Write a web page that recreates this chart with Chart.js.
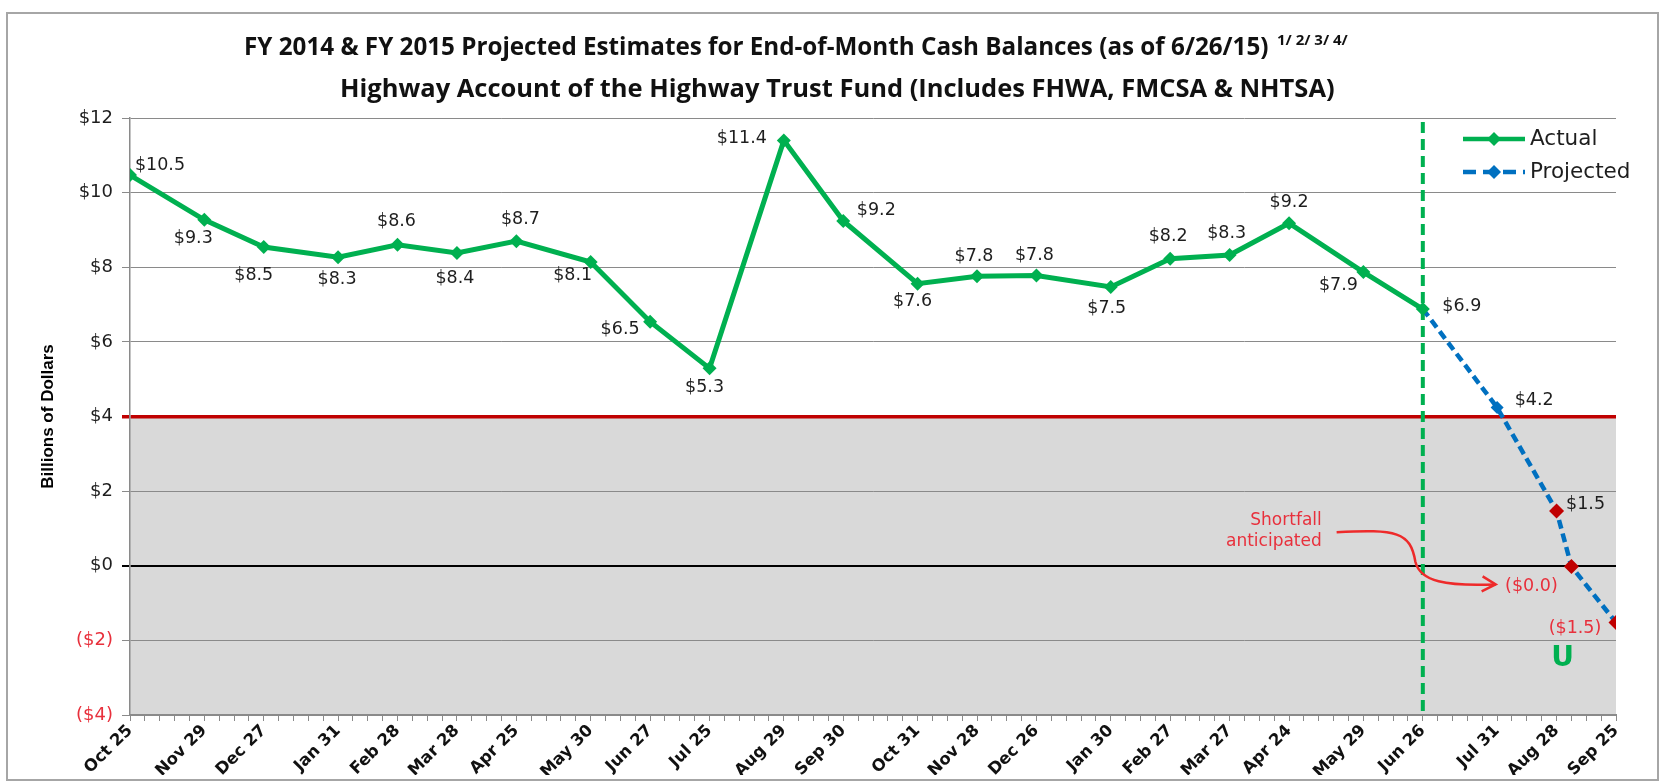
<!DOCTYPE html>
<html>
<head>
<meta charset="utf-8">
<title>Highway Account - End-of-Month Cash Balances</title>
<script src="https://cdn.jsdelivr.net/npm/chart.js@4.4.1/dist/chart.umd.min.js"></script>
<style>
  html, body { margin: 0; padding: 0; background: #fff; }
  #wrap { width: 1665px; height: 781px; }
</style>
</head>
<body>
<div id="wrap"><canvas id="cashChart" width="1665" height="781"></canvas></div>
<script>
// x axis is counted in weeks from Oct 25, 2013 (one small tick per week)
const tickWeeks  = [0, 5, 9, 14, 18, 22, 26, 31, 35, 39, 44, 48, 53, 57, 61, 66, 70, 74, 78, 83, 87, 92, 96, 100];
const tickLabels = ['Oct 25', 'Nov 29', 'Dec 27', 'Jan 31', 'Feb 28', 'Mar 28', 'Apr 25', 'May 30', 'Jun 27', 'Jul 25', 'Aug 29', 'Sep 30',
                    'Oct 31', 'Nov 28', 'Dec 26', 'Jan 30', 'Feb 27', 'Mar 27', 'Apr 24', 'May 29', 'Jun 26', 'Jul 31', 'Aug 28', 'Sep 25'];

// billions of dollars
const actualWeeks  = [0, 5, 9, 14, 18, 22, 26, 31, 35, 39, 44, 48, 53, 57, 61, 66, 70, 74, 78, 83, 87];
const actualValues = [10.47, 9.27, 8.54, 8.27, 8.60, 8.38, 8.70, 8.14, 6.54, 5.29, 11.40, 9.24, 7.56, 7.76, 7.78, 7.47, 8.23, 8.33, 9.18, 7.87, 6.88];

const projectedWeeks  = [87, 92, 96, 97, 100];
const projectedValues = [6.88, 4.24, 1.47, -0.02, -1.52];

const yTicks = [-4, -2, 0, 2, 4, 6, 8, 10, 12];
const asOfWeek = 87;        // 6/26/15
const reserveLevel = 4;     // $4 billion cushion line

// colours
const GREEN = '#00b050', BLUE = '#0070c0', DARK_RED = '#c00000', TEXT_RED = '#e8303c';
const GRID = '#8a8a8a', SHADE = '#d9d9d9', INK = '#1e1e1e';

// label offsets (px) for each point label, null = no label
const actualLabelOffsets = [[30, -10], [-11, 19], [-10, 28], [-1, 22], [-1, -23], [-2, 25], [4, -22], [-18, 13], [-30, 8], [-5, 19],
                            [-42, -2], [33, -11], [-5, 18], [-3, -20], [-2, -20], [-4, 21], [-2, -22], [-3, -21], [0, -21], [-25, 13], [39, -3]];
const projectedLabelOffsets = [null, [37, -7], [29, -6], [-40, 20], [-41, 6]];

const money = v => v < 0 ? '($' + Math.abs(v).toFixed(1) + ')' : '$' + v.toFixed(1);
const moneyTick = v => v < 0 ? '($' + Math.abs(v) + ')' : '$' + v;

const toPoints = (xs, ys) => xs.map((x, i) => ({ x: x, y: ys[i] }));

const TITLE_FONT = '"Open Sans", Lato, sans-serif';

// set a bold font so that text fills the given width
const fitFont = (ctx, text, width) => {
  ctx.font = 'bold 20px ' + TITLE_FONT;
  const size = 20 * width / ctx.measureText(text).width;
  ctx.font = 'bold ' + size.toFixed(2) + 'px ' + TITLE_FONT;
  return size;
};

// grey band under the reserve line + outer frame
const backdrop = {
  id: 'backdrop',
  beforeDraw(chart) {
    const { ctx, chartArea: a, scales: { y } } = chart;
    ctx.save();
    ctx.strokeStyle = '#a6a6a6';
    ctx.lineWidth = 2;
    ctx.strokeRect(7, 13, 1651, 767);
    const top = y.getPixelForValue(reserveLevel);
    ctx.fillStyle = SHADE;
    ctx.fillRect(a.left, top, a.right - a.left, a.bottom - top);
    ctx.restore();
  }
};

// dashed "as of" line
const asOfLine = {
  id: 'asOfLine',
  beforeDatasetsDraw(chart) {
    const { ctx, chartArea: a, scales: { x } } = chart;
    const px = x.getPixelForValue(asOfWeek);
    ctx.save();
    ctx.strokeStyle = GREEN;
    ctx.lineWidth = 4;
    ctx.setLineDash([11, 6]);
    ctx.beginPath();
    ctx.moveTo(px, a.top + 4);
    ctx.lineTo(px, a.bottom);
    ctx.stroke();
    ctx.restore();
  }
};

// value labels next to the points
const pointLabels = {
  id: 'pointLabels',
  afterDatasetsDraw(chart) {
    const { ctx } = chart;
    const offsets = [actualLabelOffsets, projectedLabelOffsets];
    ctx.save();
    ctx.font = '17.5px "DejaVu Sans", Verdana, sans-serif';
    ctx.textAlign = 'center';
    ctx.textBaseline = 'middle';
    chart.data.datasets.forEach((ds, di) => {
      const meta = chart.getDatasetMeta(di);
      meta.data.forEach((pt, i) => {
        const off = offsets[di][i];
        if (!off) return;
        const v = ds.data[i].y;
        ctx.fillStyle = v < 0 ? TEXT_RED : INK;
        ctx.fillText(money(v), pt.x + off[0], pt.y + off[1]);
      });
    });
    ctx.restore();
  }
};

// titles, legend, shortfall note
const notes = {
  id: 'notes',
  afterDraw(chart) {
    const { ctx, chartArea: a, scales: { x, y } } = chart;
    ctx.save();

    // title
    ctx.fillStyle = '#111';
    ctx.textBaseline = 'middle';
    ctx.textAlign = 'left';
    const t1 = 'FY 2014 & FY 2015 Projected Estimates for End-of-Month Cash Balances (as of 6/26/15)';
    const t2 = 'Highway Account of the Highway Trust Fund (Includes FHWA, FMCSA & NHTSA)';
    fitFont(ctx, t1, 1025);
    ctx.fillText(t1, 244, 48);
    ctx.font = 'bold 15px ' + TITLE_FONT;
    ctx.fillText('1/ 2/ 3/ 4/', 244 + 1025 + 8, 41);
    fitFont(ctx, t2, 995);
    ctx.fillText(t2, 340, 90);

    // legend
    const lx0 = a.right - 153, lx1 = a.right - 91, lcx = (lx0 + lx1) / 2;
    const rows = [a.top + 21, a.top + 54];
    chart.data.datasets.forEach((ds, i) => {
      const ly = rows[i];
      ctx.strokeStyle = ds.borderColor;
      ctx.lineWidth = 4.5;
      ctx.setLineDash(i === 1 ? [13, 7] : []);
      ctx.beginPath();
      ctx.moveTo(lx0, ly);
      ctx.lineTo(lx1, ly);
      ctx.stroke();
      ctx.setLineDash([]);
      ctx.fillStyle = ds.borderColor;
      ctx.beginPath();
      ctx.moveTo(lcx, ly - 7); ctx.lineTo(lcx + 7, ly); ctx.lineTo(lcx, ly + 7); ctx.lineTo(lcx - 7, ly);
      ctx.closePath();
      ctx.fill();
      ctx.fillStyle = INK;
      ctx.font = '21.5px "DejaVu Sans", Verdana, sans-serif';
      ctx.textAlign = 'left';
      ctx.fillText(ds.label, lx1 + 5, ly);
    });

    // shortfall note + arrow
    ctx.fillStyle = TEXT_RED;
    ctx.font = '17px "DejaVu Sans", Verdana, sans-serif';
    ctx.textAlign = 'right';
    const nx = x.getPixelForValue(80.2);
    ctx.fillText('Shortfall', nx, y.getPixelForValue(1.22));
    ctx.fillText('anticipated', nx, y.getPixelForValue(0.66));

    const p0 = { x: x.getPixelForValue(81.2), y: y.getPixelForValue(0.9) };
    const p1 = { x: x.getPixelForValue(86.7), y: y.getPixelForValue(0) };
    const p2 = { x: x.getPixelForValue(91.9), y: y.getPixelForValue(-0.5) };
    ctx.strokeStyle = '#ee2a2a';
    ctx.lineWidth = 2.5;
    ctx.beginPath();
    ctx.moveTo(p0.x, p0.y);
    ctx.bezierCurveTo(p0.x + 60, p0.y - 3, p1.x - 8, p1.y - 34, p1.x - 3, p1.y - 4);
    ctx.bezierCurveTo(p1.x + 2, p1.y + 16, p2.x - 50, p2.y + 2, p2.x, p2.y);
    ctx.stroke();
    ctx.beginPath();
    ctx.moveTo(p2.x - 13, p2.y - 8);
    ctx.lineTo(p2.x, p2.y);
    ctx.lineTo(p2.x - 14, p2.y + 7);
    ctx.stroke();

    // green mark under the crossing
    ctx.fillStyle = GREEN;
    ctx.font = 'bold 28px "DejaVu Sans", sans-serif';
    ctx.textAlign = 'center';
    ctx.fillText('U', x.getPixelForValue(96.4), y.getPixelForValue(-2.48));

    ctx.restore();
  }
};

const ctx = document.querySelector('#cashChart').getContext('2d');

const cashChart = new Chart(ctx, {
  type: 'line',
  data: {
    datasets: [
      {
        label: 'Actual',
        data: toPoints(actualWeeks, actualValues),
        borderColor: GREEN,
        backgroundColor: GREEN,
        borderWidth: 5,
        pointStyle: 'rectRot',
        pointRadius: 7,
        pointBorderWidth: 0,
        pointBackgroundColor: GREEN,
        tension: 0,
        order: 1
      },
      {
        label: 'Projected',
        data: toPoints(projectedWeeks, projectedValues),
        borderColor: BLUE,
        backgroundColor: BLUE,
        borderWidth: 4.5,
        borderDash: [9, 5],
        pointStyle: 'rectRot',
        pointRadius: [0, 6.5, 7.5, 7.5, 7.5],
        pointBorderWidth: 0,
        pointBackgroundColor: [GREEN, BLUE, DARK_RED, DARK_RED, DARK_RED],
        tension: 0,
        order: 2
      }
    ]
  },
  options: {
    responsive: false,
    animation: false,
    devicePixelRatio: 1,
    layout: { padding: { left: 34, right: 49, top: 118, bottom: 6 } },
    plugins: {
      legend: { display: false },
      tooltip: { enabled: false }
    },
    scales: {
      x: {
        type: 'linear',
        min: 0,
        max: 100,
        afterBuildTicks: s => {
          s.ticks = Array.from({ length: 101 }, (_, i) => ({ value: i }));
        },
        afterFit: s => {
          s.height = 60;
          s.paddingLeft = 0;
          s.paddingRight = 0;
        },
        ticks: {
          autoSkip: false,
          minRotation: 45,
          maxRotation: 45,
          padding: 0,
          color: '#111',
          font: { family: '"DejaVu Sans", Verdana, sans-serif', size: 16.5, weight: 'bold' },
          callback: value => {
            const i = tickWeeks.indexOf(value);
            return i >= 0 ? tickLabels[i] : '';
          }
        },
        grid: { drawOnChartArea: false, drawTicks: true, tickLength: 6, color: GRID, lineWidth: 1 },
        border: { display: true, color: GRID, width: 2 }
      },
      y: {
        min: -4,
        max: 12,
        afterBuildTicks: s => {
          s.ticks = yTicks.map(v => ({ value: v }));
        },
        afterFit: s => {
          s.width = 96;
          s.paddingTop = 0;
          s.paddingBottom = 0;
        },
        ticks: {
          padding: 9,
          color: c => c.tick.value < 0 ? TEXT_RED : INK,
          font: { family: '"DejaVu Sans", Verdana, sans-serif', size: 18 },
          callback: v => moneyTick(v)
        },
        grid: {
          tickLength: 8,
          color: c => c.tick.value === reserveLevel ? DARK_RED : (c.tick.value === 0 ? '#000' : GRID),
          lineWidth: c => c.tick.value === reserveLevel ? 3.5 : (c.tick.value === 0 ? 2 : 1)
        },
        border: { display: true, color: GRID, width: 1.5 },
        title: {
          display: true,
          text: 'Billions of Dollars',
          color: '#000',
          padding: { top: 4, bottom: 0 },
          font: { family: '"Liberation Sans Narrow", "Arial Narrow", sans-serif', size: 17, weight: 'bold' }
        }
      }
    }
  },
  plugins: [backdrop, asOfLine, pointLabels, notes]
});
</script>
</body>
</html>
